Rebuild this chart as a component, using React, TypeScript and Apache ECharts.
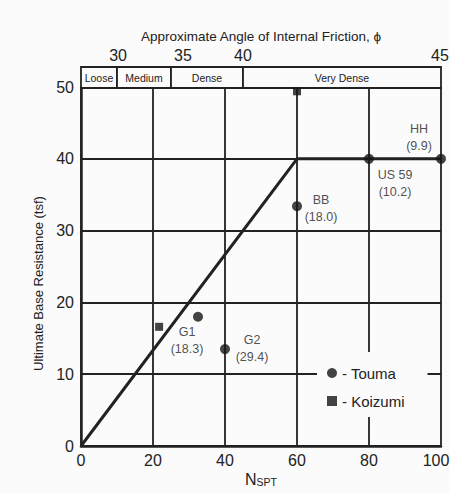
import React, { useEffect, useRef } from 'react';
import * as echarts from 'echarts';

const toumaNames = ['G1', 'G2', 'BB', 'US 59', 'HH'];
const toumaRatios = ['18.3', '29.4', '18.0', '10.2', '9.9'];
const toumaN = [32.5, 40, 60, 80, 100];
const toumaQ = [18.0, 13.5, 33.4, 40, 40];
const koizumiN = [21.7, 60];
const koizumiQ = [16.6, 49.4];
const trendN = [0, 60, 100];
const trendQ = [0, 40, 40];
const densityNames = ['Loose', 'Medium', 'Dense', 'Very Dense'];
const densityStart = [0, 10, 25, 45];
const densityEnd = [10, 25, 45, 100];
const phiTicks = [30, 35, 40, 45];
const phiAtN = [10.3, 28.3, 45, 99.7];

const FONT = '"Liberation Sans", Arial, Helvetica, sans-serif';
const INK = '#222';
const BG = '#fbfbfb';

const labelOffsets: Record<string, number[]> = {
  G1: [-11, 24],
  G2: [27, -1],
  BB: [24, 2],
  'US 59': [26, 25],
  HH: [-22, -21],
};

export default function App() {
  const ref = useRef<HTMLDivElement>(null);
  useEffect(() => {
    if (!ref.current) return;
    const chart = echarts.init(ref.current, null, { renderer: 'svg' });
    const option: any = {
      animation: false,
      backgroundColor: BG,
      textStyle: { fontFamily: FONT, color: INK },
      grid: [
        { left: 81, right: 9, top: 87, bottom: 47, outerBoundsMode: 'none', containLabel: false },
        { left: 81, right: 9, top: 67, height: 21, outerBoundsMode: 'none', containLabel: false },
      ],
      legend: {
        data: [
          { name: 'Touma', icon: 'circle' },
          { name: 'Koizumi', icon: 'rect' },
        ],
        orient: 'vertical',
        left: 317,
        top: 352,
        itemWidth: 10,
        itemHeight: 10,
        itemGap: 12,
        padding: [13, 23, 8, 10],
        backgroundColor: BG,
        formatter: (n: string) => '- ' + n,
        textStyle: { fontFamily: FONT, fontSize: 15, color: INK, lineHeight: 16 },
        selectedMode: false,
      },
      xAxis: [
        {
          type: 'value',
          gridIndex: 0,
          min: 0,
          max: 100,
          interval: 20,
          axisLine: { show: true, lineStyle: { color: INK, width: 2.5 } },
          axisTick: { show: false },
          axisLabel: {
            fontFamily: FONT,
            fontSize: 16,
            color: INK,
            margin: 6,
            formatter: (v: number) => (v === 100 ? '{r|' + v + '}' : String(v)),
            rich: { r: { fontFamily: FONT, fontSize: 16, color: INK, padding: [0, 10, 0, 0] } },
          },
          splitLine: { show: true, lineStyle: { color: INK, width: 1.8 } },
          name: '{n|N}{s|SPT}',
          nameLocation: 'middle',
          nameGap: 25,
          nameMoveOverlap: false,
          nameTextStyle: {
            rich: {
              n: { fontFamily: FONT, fontSize: 16, color: INK, lineHeight: 16, verticalAlign: 'top' },
              s: { fontFamily: FONT, fontSize: 10.5, color: INK, lineHeight: 11, verticalAlign: 'bottom', padding: [7, 0, 0, 0] },
            },
          },
        },
        {
          type: 'value',
          gridIndex: 1,
          position: 'top',
          min: 0,
          max: 100,
          axisLine: { show: true, lineStyle: { color: INK, width: 2 } },
          axisTick: { show: false },
          splitLine: { show: false },
          axisLabel: {
            customValues: phiAtN,
            formatter: (v: number) => {
              const i = phiAtN.indexOf(v);
              return i >= 0 ? String(phiTicks[i]) : '';
            },
            fontFamily: FONT,
            fontSize: 16,
            color: INK,
            margin: 4,
          },
          name: 'Approximate Angle of Internal Friction, \u03d5',
          nameLocation: 'middle',
          nameGap: 24,
          nameTextStyle: { fontFamily: FONT, fontSize: 13.5, color: INK },
        },
      ],
      yAxis: [
        {
          type: 'value',
          gridIndex: 0,
          min: 0,
          max: 50,
          interval: 10,
          axisLine: { show: true, lineStyle: { color: INK, width: 2.5 } },
          axisTick: { show: false },
          axisLabel: { fontFamily: FONT, fontSize: 16, color: INK, margin: 7 },
          splitLine: { show: true, lineStyle: { color: INK, width: 1.8 } },
          name: 'Ultimate Base Resistance (tsf)',
          nameLocation: 'middle',
          nameGap: 35,
          nameTextStyle: { fontFamily: FONT, fontSize: 13, color: INK, padding: [0, 34, 0, 0] },
        },
        { type: 'value', gridIndex: 1, min: 0, max: 1, show: false },
      ],
      series: [
        {
          type: 'custom',
          name: 'density',
          xAxisIndex: 1,
          yAxisIndex: 1,
          encode: { x: [0, 1] },
          data: densityStart.map((s, i) => [s, densityEnd[i]]),
          renderItem: (params: any, api: any) => {
            const p0 = api.coord([api.value(0), 1]);
            const p1 = api.coord([api.value(1), 0]);
            return {
              type: 'group',
              children: [
                {
                  type: 'rect',
                  shape: { x: p0[0], y: p0[1], width: p1[0] - p0[0], height: p1[1] - p0[1] },
                  style: { fill: BG, stroke: INK, lineWidth: 1.8 },
                },
                {
                  type: 'text',
                  style: {
                    text: densityNames[params.dataIndex],
                    x: (p0[0] + p1[0]) / 2,
                    y: (p0[1] + p1[1]) / 2,
                    align: 'center',
                    verticalAlign: 'middle',
                    fontSize: 10.5,
                    fontFamily: FONT,
                    fill: INK,
                  },
                },
              ],
            };
          },
        },
        {
          type: 'line',
          name: 'trend',
          data: trendN.map((n, i) => [n, trendQ[i]]),
          symbol: 'none',
          lineStyle: { color: INK, width: 3 },
          z: 3,
        },
        {
          type: 'scatter',
          name: 'Touma',
          symbol: 'circle',
          symbolSize: 10,
          itemStyle: { color: '#151515' },
          z: 5,
          data: toumaN.map((n, i) => ({
            name: toumaNames[i],
            value: [n, toumaQ[i]],
            label: {
              show: true,
              position: 'inside',
              offset: labelOffsets[toumaNames[i]],
              formatter: toumaNames[i] + '\n(' + toumaRatios[i] + ')',
              fontFamily: FONT,
              fontSize: 12.5,
              lineHeight: 17,
              color: INK,
              align: 'center',
            },
          })),
        },
        {
          type: 'scatter',
          name: 'Koizumi',
          symbol: 'rect',
          symbolSize: 8,
          itemStyle: { color: '#151515' },
          z: 5,
          data: koizumiN.map((n, i) => [n, koizumiQ[i]]),
        },
      ],
    };
    chart.setOption(option);
    return () => chart.dispose();
  }, []);
  return (
    <div
      ref={ref}
      style={{ position: 'fixed', left: 0, top: 0, width: 450, height: 493 }}
    />
  );
}
